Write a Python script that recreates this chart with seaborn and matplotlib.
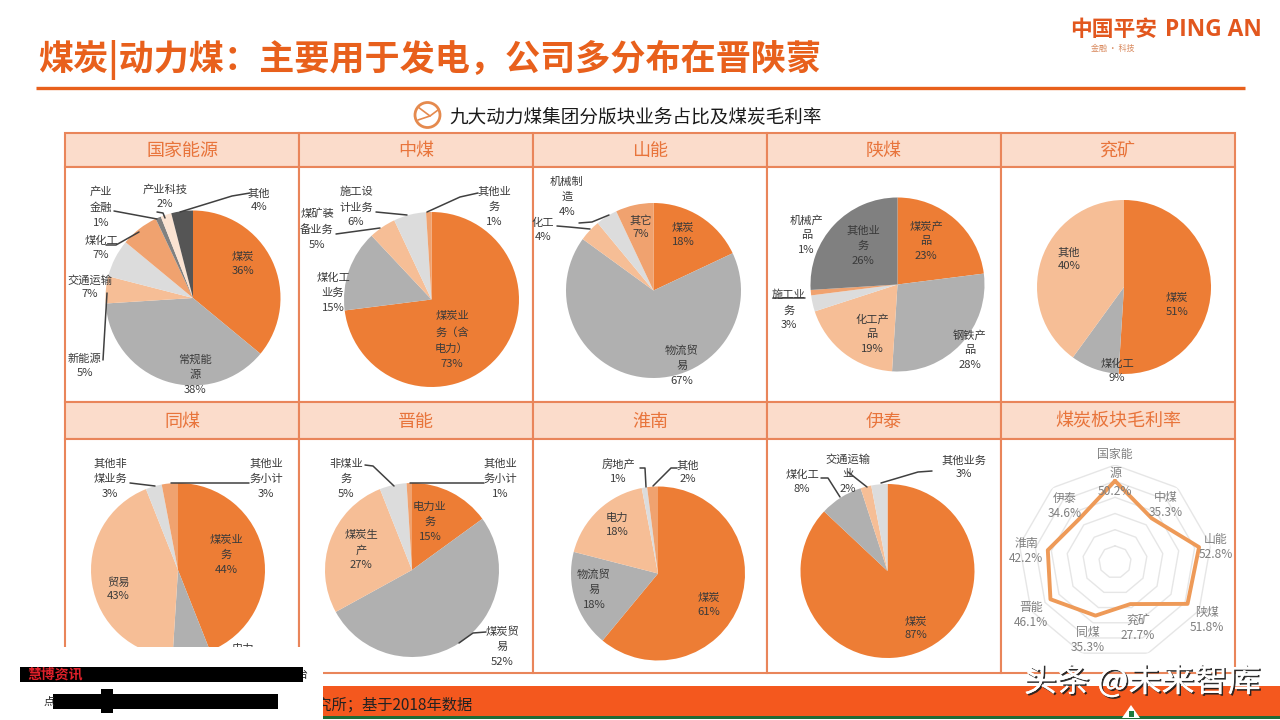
import numpy as np
import matplotlib
matplotlib.use("Agg")
import matplotlib.pyplot as plt
import matplotlib.patheffects as pe
from matplotlib.patches import Rectangle, Circle
import seaborn as sns

sns.set_theme(style="white")
plt.rcParams['font.family'] = ['Noto Sans CJK SC', 'DejaVu Sans']
plt.rcParams['axes.unicode_minus'] = False

# ---------- data ----------
title_text = "煤炭|动力煤：主要用于发电，公司多分布在晋陕蒙"
subtitle_text = "九大动力煤集团分版块业务占比及煤炭毛利率"
panel_names = ["国家能源", "中煤", "山能", "陕煤", "兖矿",
               "同煤", "晋能", "淮南", "伊泰", "煤炭板块毛利率"]

guoneng_labels = ["煤炭\n36%", "常规能\n源\n38%", "新能源\n5%", "交通运输\n7%", "煤化工\n7%",
                  "产业\n金融\n1%", "产业科技\n2%", "其他\n4%"]
guoneng_values = [36, 38, 5, 7, 7, 1, 2, 4]

zhongmei_labels = ["煤炭业\n务（含\n电力）\n73%", "煤化工\n业务\n15%", "煤矿装\n备业务\n5%",
                   "施工设\n计业务\n6%", "其他业\n务\n1%"]
zhongmei_values = [73, 15, 5, 6, 1]

shanneng_labels = ["煤炭\n18%", "物流贸\n易\n67%", "化工\n4%", "机械制\n造\n4%", "其它\n7%"]
shanneng_values = [18, 67, 4, 4, 7]

shanmei_labels = ["煤炭产\n品\n23%", "钢铁产\n品\n28%", "化工产\n品\n19%", "施工业\n务\n3%",
                  "机械产\n品\n1%", "其他业\n务\n26%"]
shanmei_values = [23, 28, 19, 3, 1, 26]

yankuang_labels = ["煤炭\n51%", "煤化工\n9%", "其他\n40%"]
yankuang_values = [51, 9, 40]

tongmei_labels = ["煤炭业\n务\n44%", "电力\n7%", "贸易\n43%", "其他非\n煤业务\n3%", "其他业\n务小计\n3%"]
tongmei_values = [44, 7, 43, 3, 3]

jinneng_labels = ["电力业\n务\n15%", "煤炭贸\n易\n52%", "煤炭生\n产\n27%", "非煤业\n务\n5%", "其他业\n务小计\n1%"]
jinneng_values = [15, 52, 27, 5, 1]

huainan_labels = ["煤炭\n61%", "物流贸\n易\n18%", "电力\n18%", "房地产\n1%", "其他\n2%"]
huainan_values = [61, 18, 18, 1, 2]

yitai_labels = ["煤炭\n87%", "煤化工\n8%", "交通运输\n业\n2%", "其他业务\n3%"]
yitai_values = [87, 8, 2, 3]

margin_names = ["国家能\n源", "中煤", "山能", "陕煤", "兖矿", "同煤", "晋能", "淮南", "伊泰"]
margin_values = [50.2, 35.3, 52.8, 51.8, 27.7, 35.3, 46.1, 42.2, 34.6]

# ---------- styles and layout (pixels of the 1280x720 canvas) ----------
C1, C2, C3, C4, C5, C6, C7, C8 = ("#ED7D35", "#B0B0B0", "#F6BE96", "#DCDCDC",
                                  "#F0A26F", "#808080", "#FBE3D2", "#555555")
ORANGE = "#E8601C"
BORDER = "#E9855A"
HEAD = "#FBDCCB"
TXT = "#3A3A3A"

W, H = 1280, 720
fig = plt.figure(figsize=(12.8, 7.2), dpi=100, facecolor="white")


def rect_of(x0, y0, x1, y1):
    return [x0 / W, 1 - y1 / H, (x1 - x0) / W, (y1 - y0) / H]


def canvas(z):
    a = fig.add_axes([0, 0, 1, 1], zorder=z)
    a.set_xlim(0, W)
    a.set_ylim(H, 0)
    a.axis("off")
    a.patch.set_alpha(0)
    return a


bg = canvas(0)
fg = canvas(5)

# header texts
bg.text(38, 60, title_text, fontsize=25.3, color=ORANGE, weight="bold", ha="left", va="center")
bg.plot([36, 1245], [88, 88], color=ORANGE, lw=2.4, solid_capstyle="butt")
bg.text(449, 117, subtitle_text, fontsize=13.4, color="#1A1A1A", weight="medium", ha="left", va="center")
bg.add_patch(Circle((427.5, 115), 12.5, fill=False, ec="#E58A4E", lw=2))
bg.plot([418, 430, 438], [107, 116, 110], color="#E58A4E", lw=1.2)
bg.plot([418, 430], [120, 116], color="#E58A4E", lw=1.2)

bg.text(1070, 30, "中国平安", fontsize=15.7, color="#E2571E", weight="bold", ha="left", va="center")
bg.text(1165, 30, "PING AN", fontsize=16.4, color="#E2571E", weight="bold", ha="left", va="center",
        family=["Open Sans", "DejaVu Sans"])
bg.text(1113, 48, "金融 · 科技", fontsize=5.8, color="#D98A5F", ha="center", va="center")

# table
col_x = [65, 299, 533, 767, 1001, 1235]
row_y = [(133, 167, 402), (402, 439, 673)]
for r, (top, mid, bot) in enumerate(row_y):
    for c in range(5):
        x0, x1 = col_x[c], col_x[c + 1]
        bg.add_patch(Rectangle((x0, top), x1 - x0, mid - top, fc=HEAD, ec=BORDER, lw=1.5))
        bg.add_patch(Rectangle((x0, mid), x1 - x0, bot - mid, fc="white", ec=BORDER, lw=1.5))
        name = panel_names[r * 5 + c]
        bg.text((x0 + x1) / 2, (top + mid) / 2 + 1, name, fontsize=13, color="#E8743B",
                weight="medium", ha="center", va="center")

# pies: (values, colours, centre x, centre y, radius)
pies = [
    (guoneng_values, [C1, C2, C3, C4, C5, C6, C7, C8], 193, 298, 87.5),
    (zhongmei_values, [C1, C2, C3, C4, C5], 431.5, 299.5, 87.5),
    (shanneng_values, [C1, C2, C3, C4, C5], 653.5, 290.5, 87.5),
    (shanmei_values, [C1, C2, C3, C4, C5, C6], 897.5, 284.5, 87),
    (yankuang_values, [C1, C2, C3], 1124, 287, 87),
    (tongmei_values, [C1, C2, C3, C4, C5], 178, 570, 87),
    (jinneng_values, [C1, C2, C3, C4, C5], 412, 570, 87),
    (huainan_values, [C1, C2, C3, C4, C5], 658, 573.5, 87),
    (yitai_values, [C1, C2, C3, C4], 887.5, 571, 87),
]
for vals, cols, cx, cy, rad in pies:
    ax = fig.add_axes(rect_of(cx - rad, cy - rad, cx + rad, cy + rad), zorder=2)
    ax.pie(vals, colors=cols, startangle=90, counterclock=False, radius=1,
           wedgeprops=dict(linewidth=0))
    ax.set_xlim(-1, 1)
    ax.set_ylim(-1, 1)
    ax.set_aspect("auto")
    ax.axis("off")

# pie labels: centre of each text block
label_sets = [
    (guoneng_labels, [(243, 264), (195, 375), (84.5, 366), (90, 287), (101, 248),
                      (101, 207), (165, 196.5), (259, 200)]),
    (zhongmei_labels, [(452, 340), (333, 293), (317, 229), (356, 207), (494, 207)]),
    (shanneng_labels, [(683, 235), (682, 366), (543, 230), (567, 197), (641, 227)]),
    (shanmei_labels, [(926, 241), (970, 350), (872, 334), (789, 310), (806.5, 235), (863, 246)]),
    (yankuang_labels, [(1177, 305), (1117, 371), (1069, 259)]),
    (tongmei_labels, [(226.5, 555), (243, 656), (118, 589), (110, 479), (266, 479)]),
    (jinneng_labels, [(430, 522), (502, 647), (361, 550), (346, 479), (500, 479)]),
    (huainan_labels, [(709, 605), (594, 590), (617, 525), (618, 472), (688, 472)]),
    (yitai_labels, [(916, 628.5), (802, 482), (848, 474), (964, 467.5)]),
]
for labels, spots in label_sets:
    for lab, (lx, ly) in zip(labels, spots):
        spacing = 1.45 if lab.count("\n") == 1 else 1.62
        fg.text(lx, ly, lab, fontsize=8.1, color=TXT, ha="center", va="center", linespacing=spacing)

# leader lines
leaders = [
    [(250, 193), (232, 196), (180, 212)], [(157, 212), (163, 213), (165, 218)],
    [(114, 211), (157, 219)], [(106, 245), (116, 245), (139, 232)], [(103, 360), (107, 293)],
    [(478, 193), (460, 197), (427, 212)], [(376, 212), (407, 215)], [(336, 234), (380, 228)],
    [(579, 223), (592, 222), (609, 215)], [(557, 226), (569, 227), (590, 229)],
    [(773, 298), (805, 298)],
    [(249, 483), (171, 483)], [(130, 483), (155, 486)],
    [(365, 465), (373, 466), (394, 486)], [(484, 483), (410, 483)], [(486, 632), (473, 633), (459, 643)],
    [(677, 468), (671, 468), (653, 486)], [(640, 468), (645, 468), (646, 487)],
    [(821, 478), (828, 478), (840, 497)], [(848, 472), (867, 487)], [(932, 471), (918, 472), (881, 483)],
]
for seg in leaders:
    xs, ys = zip(*seg)
    fg.plot(xs, ys, color="#404040", lw=1.1, solid_capstyle="round")

# radar
rcx, rcy, rmax = 1115, 562, 97
rad_ax = fig.add_axes(rect_of(rcx - rmax, rcy - rmax, rcx + rmax, rcy + rmax), projection="polar", zorder=2)
rad_ax.set_theta_zero_location("N")
rad_ax.set_theta_direction(-1)
theta = np.linspace(0, 2 * np.pi, len(margin_values) + 1)
for ring in (10, 20, 30, 40, 50, 60):
    rad_ax.plot(theta, [ring] * len(theta), color="#E6E6E6", lw=1.0)
sns.lineplot(x=theta, y=margin_values + margin_values[:1], sort=False, estimator=None,
             color="#EE9A58", lw=2.8, ax=rad_ax, legend=False)
rad_ax.set_ylim(0, 60)
rad_ax.axis("off")
rad_ax.patch.set_alpha(0)

radar_spots = [(1115, 473), (1166, 505), (1216, 547), (1207, 620), (1138, 628),
               (1088, 640), (1031, 615), (1026, 551), (1065, 506)]
for nm, v, (lx, ly) in zip(margin_names, margin_values, radar_spots):
    spacing = 1.55 if "\n" in nm else 1.25
    fg.text(lx, ly, f"{nm}\n{v:.1f}%", fontsize=8.6, color="#808080", ha="center", va="center", linespacing=spacing)

# footer
fg.add_patch(Rectangle((323, 686), W - 323, 30, fc="#F4581E", ec="none"))
fg.add_patch(Rectangle((323, 716), W - 323, 2.5, fc="#1F6B36", ec="none"))
fg.text(302, 705, "研究所；基于2018年数据", fontsize=11, color="#222222", ha="left", va="center")
fg.fill([1122, 1131, 1140], [718, 705, 718], color="white", ec="none")
fg.add_patch(Rectangle((1129, 711), 4.5, 6, fc="#1F7A3E", ec="none"))

# white patch with black bars, bottom-left corner
fg.add_patch(Rectangle((0, 647), 323, 73, fc="white", ec="none", zorder=4))
fg.add_patch(Rectangle((20, 667), 283, 15, fc="black", ec="none", zorder=5))
fg.add_patch(Rectangle((53, 694), 225, 15, fc="black", ec="none", zorder=5))
fg.add_patch(Rectangle((101, 689), 12, 24, fc="black", ec="none", zorder=5))
fg.text(55, 674.5, "慧博资讯", fontsize=10, color="#E0202A", weight="bold", ha="center", va="center", zorder=6)
fg.text(49, 702, "点", fontsize=8, color="#222222", ha="center", va="center", zorder=6)
fg.text(302, 675, "台", fontsize=8, color="#222222", ha="center", va="center", zorder=4.5)

# watermark
wm = fg.text(1142, 682, "头条 @未来智库", fontsize=23.8, color="white", ha="center", va="center", zorder=7)
wm.set_path_effects([pe.withSimplePatchShadow(offset=(1.2, -1.2), shadow_rgbFace="#222222", alpha=0.95),
                     pe.Normal()])

fig.savefig("out.png", dpi=100, facecolor="white")
